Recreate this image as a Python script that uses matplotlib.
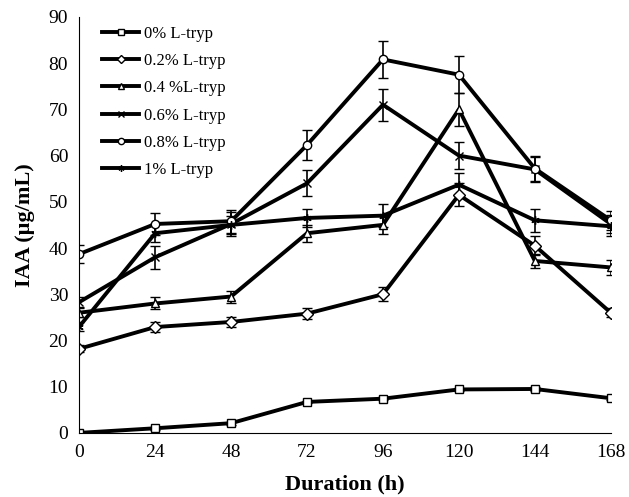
import matplotlib
matplotlib.use('Agg')
from matplotlib import pyplot as plt
import numpy as np

hours = [0, 24, 48, 72, 96, 120, 144, 168]

labels = ['0% L-tryp', '0.2% L-tryp', '0.4 %L-tryp', '0.6% L-tryp', '0.8% L-tryp', '1% L-tryp']
markers = ['s', 'D', '^', 'x', 'o', (6, 2, 0)]

iaa_0 = [0.0, 1.0, 2.1, 6.7, 7.4, 9.4, 9.5, 7.5]
iaa_02 = [18.2, 22.9, 24.0, 25.8, 30.0, 51.5, 40.5, 26.0]
iaa_04 = [26.0, 28.0, 29.5, 43.2, 45.0, 70.0, 37.2, 35.8]
iaa_06 = [28.3, 38.0, 45.2, 54.0, 71.0, 60.0, 57.0, 45.2]
iaa_08 = [38.7, 45.2, 45.8, 62.3, 80.8, 77.5, 57.2, 46.0]
iaa_1 = [23.0, 43.2, 45.0, 46.5, 47.0, 53.7, 46.0, 44.7]

err_0 = [0.2, 0.3, 0.3, 0.3, 0.3, 0.4, 0.4, 0.3]
err_02 = [0.8, 1.0, 1.0, 1.2, 1.5, 2.5, 2.0, 1.0]
err_04 = [1.0, 1.3, 1.3, 1.8, 2.0, 3.5, 1.5, 1.7]
err_06 = [1.0, 2.5, 2.5, 2.8, 3.5, 3.0, 2.7, 2.0]
err_08 = [2.0, 2.3, 2.5, 3.2, 4.0, 4.0, 2.8, 2.0]
err_1 = [1.0, 2.0, 2.0, 2.0, 2.5, 2.5, 2.5, 2.0]

series = [iaa_0, iaa_02, iaa_04, iaa_06, iaa_08, iaa_1]
errors = [err_0, err_02, err_04, err_06, err_08, err_1]

plt.rcParams['font.family'] = ['Liberation Serif', 'DejaVu Serif']

fig = plt.figure(figsize=(6.29, 4.97), dpi=100)
ax = fig.add_axes([0.126, 0.129, 0.845, 0.837])

for vals, err, lab, mk in zip(series, errors, labels, markers):
    ax.errorbar(hours, vals, yerr=err, color='black', lw=2.8, marker=mk,
                markersize=6, markerfacecolor='white', markeredgecolor='black',
                markeredgewidth=1, ecolor='black', elinewidth=1.2, capsize=3.5,
                capthick=1.2, label=lab)

ax.set_xlim(0, 168)
ax.set_ylim(0, 90)
ax.set_xticks(hours)
ax.set_yticks(np.arange(0, 91, 10))
ax.tick_params(length=0, labelsize=14, pad=8)
ax.spines['top'].set_visible(False)
ax.spines['right'].set_visible(False)
ax.spines['left'].set_linewidth(0.8)
ax.spines['bottom'].set_linewidth(0.8)
ax.set_xlabel('Duration (h)', fontsize=16, fontweight='bold', labelpad=10)
ax.set_ylabel('IAA (µg/mL)', fontsize=16, fontweight='bold', labelpad=10)

handles, labs = ax.get_legend_handles_labels()
handles = [h[0] for h in handles]
ax.legend(handles, labs, loc='upper left', bbox_to_anchor=(0.015, 1.015), frameon=False,
          fontsize=12, handlelength=2.2, labelspacing=0.68, handletextpad=0.3,
          markerscale=0.75)

fig.savefig('out.png', dpi=100)
